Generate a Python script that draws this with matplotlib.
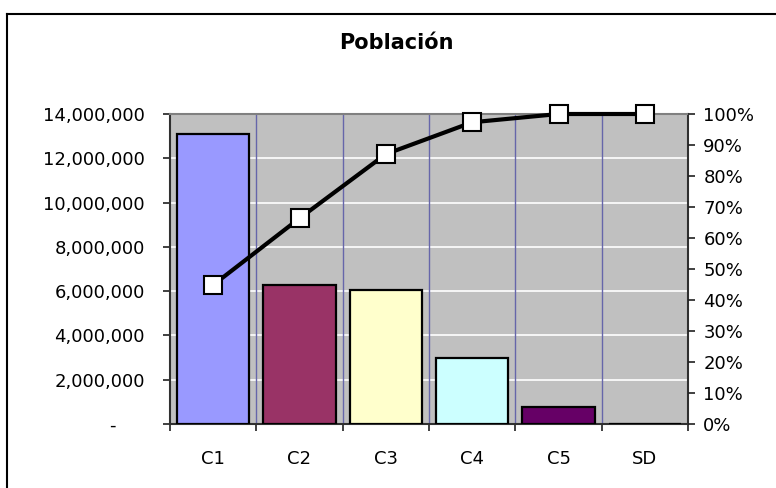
import numpy as np
import matplotlib
matplotlib.use("Agg")
import matplotlib.pyplot as plt
from matplotlib.ticker import FuncFormatter, FixedLocator
from matplotlib.lines import Line2D

# datos
categorias = ["C1", "C2", "C3", "C4", "C5", "SD"]
poblacion = [13100000, 6280000, 6050000, 3000000, 780000, 0]
colores = ["#9999FF", "#993366", "#FFFFCC", "#CCFFFF", "#660066", "#FF8080"]
titulo = "Población"

acumulado = np.cumsum(poblacion) / np.sum(poblacion)

plt.rcParams["font.family"] = ["DejaVu Sans"]
fs = 13

fig = plt.figure(figsize=(7.76, 4.88), dpi=100)
ax = fig.add_axes([170 / 776, 64 / 488, 518 / 776, 310 / 488])
ax.set_facecolor("#C0C0C0")

x = np.arange(len(categorias))
ax.bar(x, poblacion, width=0.84, color=colores, edgecolor="black",
       linewidth=1.6, zorder=3)

ax.set_xlim(-0.5, len(categorias) - 0.5)
ax.set_ylim(0, 14000000)

# eje Y izquierdo
ax.yaxis.set_major_locator(FixedLocator(np.arange(0, 14000001, 2000000)))


def fmt_miles(v, pos):
    if v == 0:
        return "-     "
    return f"{v:,.0f}"


ax.yaxis.set_major_formatter(FuncFormatter(fmt_miles))
ax.tick_params(axis="y", direction="out", length=5, width=1.2,
               color="#202020", labelsize=fs, pad=13)

# eje X: etiquetas al centro, marcas entre categorias
ax.set_xticks(x)
ax.set_xticklabels(categorias)
ax.set_xticks(np.arange(-0.5, len(categorias)), minor=True)
ax.tick_params(axis="x", which="major", length=0, labelsize=fs, pad=19)
ax.tick_params(axis="x", which="minor", direction="out", length=5,
               width=1.2, color="#202020")

# lineas de division
for yv in np.arange(2000000, 14000000, 2000000):
    ax.axhline(yv, color="white", linewidth=1.2, zorder=1)
for xv in np.arange(0.5, len(categorias) - 0.5):
    ax.axvline(xv, color="#6666AA", linewidth=1.0, zorder=1)

ax.spines["top"].set_color("#808080")
ax.spines["top"].set_linewidth(1.5)
for s in ["left", "right", "bottom"]:
    ax.spines[s].set_color("#303030")
    ax.spines[s].set_linewidth(1.5)

# eje Y derecho con el acumulado
ax2 = ax.twinx()
ax2.set_ylim(0, 1)
ax2.yaxis.set_major_locator(FixedLocator(np.arange(0, 1.01, 0.1)))
ax2.yaxis.set_major_formatter(FuncFormatter(lambda v, p: f"{v * 100:.0f}%"))
ax2.tick_params(axis="y", direction="out", length=5, width=1.2,
                color="#202020", labelsize=fs, pad=6)
ax2.plot(x, acumulado, color="black", linewidth=3, marker="s",
         markersize=13, markerfacecolor="white", markeredgecolor="black",
         markeredgewidth=1.5, zorder=5, clip_on=False)
for s in ["left", "right", "bottom", "top"]:
    ax2.spines[s].set_visible(False)

fig.text(396 / 776, 1 - 43 / 488, titulo, ha="center", va="center",
         fontsize=15, fontweight="bold")

# marco del area del grafico (solo se ve arriba e izquierda)
fig.add_artist(Line2D([7 / 776, 1.0], [1 - 14 / 488, 1 - 14 / 488],
                      color="black", linewidth=1.5, transform=fig.transFigure))
fig.add_artist(Line2D([7 / 776, 7 / 776], [0.0, 1 - 14 / 488],
                      color="black", linewidth=1.5, transform=fig.transFigure))

fig.savefig("out.png", dpi=100)
